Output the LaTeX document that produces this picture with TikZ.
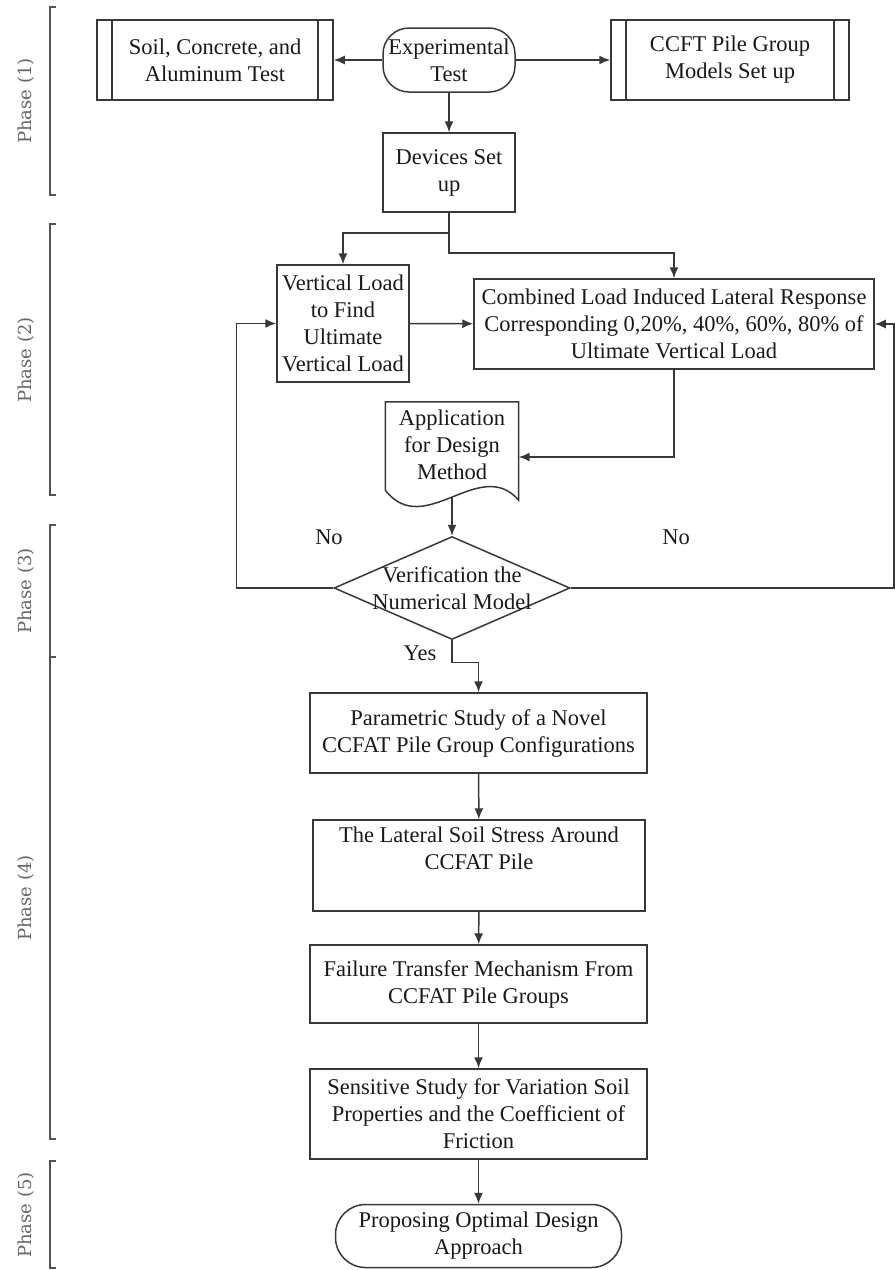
\documentclass[tikz,border=0pt]{standalone}
\usepackage{fontspec}
\setmainfont{Liberation Serif}
\newfontfamily\phasefamily{DejaVu Serif}
\usetikzlibrary{arrows.meta, shapes.geometric}

\definecolor{linegray}{HTML}{383838}
\definecolor{phasegray}{HTML}{666666}

\tikzset{
  boxfont/.style={font=\fontsize{22.5}{27}\selectfont, text=black!90, align=center},
  box/.style={boxfont, draw=linegray, line width=1.5pt, inner sep=0pt},
  procbox/.style={box, path picture={
      \draw[linegray, line width=1.5pt]
        ([xshift=15pt]path picture bounding box.north west) -- ([xshift=15pt]path picture bounding box.south west)
        ([xshift=-15pt]path picture bounding box.north east) -- ([xshift=-15pt]path picture bounding box.south east);}},
  termbox/.style={box, rounded corners=26pt},
  decision/.style={box, diamond},
  flow/.style={draw=linegray, line width=1.5pt, -{Latex[length=11pt,width=9pt]}},
  phasebar/.style={draw=phasegray!80!black, line width=1.5pt},
  phaselbl/.style={rotate=90, text=phasegray, font=\phasefamily\fontsize{18}{20}\selectfont}
}

\begin{document}
\begin{tikzpicture}[x=1pt, y=-1pt]
  \useasboundingbox (0,0) rectangle (896,1270);

  \foreach \ytop/\ybot in {7/195, 224/495, 525/1139, 1161/1268}
    \draw[phasebar] (56,\ytop) -- (50,\ytop) -- (50,\ybot) -- (56,\ybot);
  \draw[phasebar] (50,657) -- (56,657);
  \node[phaselbl] (ph1) at (26,101) {Phase (1)};
  \node[phaselbl] (ph2) at (26,360) {Phase (2)};
  \node[phaselbl] (ph3) at (26,591) {Phase (3)};
  \node[phaselbl] (ph4) at (26,898) {Phase (4)};
  \node[phaselbl] (ph5) at (26,1215) {Phase (5)};

  \node[procbox, minimum width=236pt, minimum height=80pt] (soil) at (215,60) {Soil, Concrete, and\\Aluminum Test};
  \node[termbox, minimum width=132pt, minimum height=64pt] (exp) at (449,60) {Experimental\\Test};
  \node[procbox, minimum width=238pt, minimum height=80pt] (ccft) at (730,60) {CCFT Pile Group\\Models Set up};
  \node[box, minimum width=132pt, minimum height=79pt] (dev) at (449,172.5) {Devices Set\\up};
  \node[box, minimum width=132pt, minimum height=117pt] (vload) at (343,323.5) {Vertical Load\\to Find\\Ultimate\\Vertical Load};
  \node[box, minimum width=400pt, minimum height=90pt] (comb) at (674,324) {Combined Load Induced Lateral Response\\Corresponding 0,20\%, 40\%, 60\%, 80\% of\\Ultimate Vertical Load};
  \node[boxfont, inner sep=0pt, minimum width=133pt, minimum height=86pt] (app) at (452,445) {Application\\for Design\\Method};
  \draw[draw=linegray, line width=1.5pt] (app.north west) -- (app.north east) -- ([yshift=-12pt]app.south east)
    .. controls +(-39,-45) and +(39,50) .. ([yshift=-2pt]app.south west) -- cycle;
  \coordinate (appbot) at ([yshift=-9pt]app.south);
  \node[decision, minimum width=236pt, minimum height=103pt,
        label={[boxfont]center:Verification the\\Numerical Model}] (verif) at (452,588) {};
  \node[box, minimum width=337pt, minimum height=80pt] (param) at (478.5,733) {Parametric Study of a Novel\\CCFAT Pile Group Configurations};
  \node[box, minimum width=332pt, minimum height=91pt] (lat) at (479,865.5) {The Lateral Soil Stress Around\\CCFAT Pile\\\strut};
  \node[box, minimum width=337pt, minimum height=78pt] (fail) at (478.5,984) {Failure Transfer Mechanism From\\CCFAT Pile Groups};
  \node[box, minimum width=337pt, minimum height=90pt] (sens) at (478.5,1114) {Sensitive Study for Variation Soil\\Properties and the Coefficient of\\Friction};
  \node[termbox, rounded corners=30pt, minimum width=286pt, minimum height=63pt] (prop) at (478.5,1236) {Proposing Optimal Design\\Approach};

  \node[boxfont] (no1) at (329,537) {No};
  \node[boxfont] (no2) at (676,537) {No};
  \node[boxfont] (yes) at (420,653) {Yes};

  \draw[flow] (exp) -- (soil);
  \draw[flow] (exp) -- (ccft);
  \draw[flow] (exp) -- (dev);
  \draw[flow] (dev.south) -- ++(0,20) -| (vload.north);
  \draw[flow] (dev.south) -- ++(0,40) -| (comb.north);
  \draw[flow] (vload) -- (comb);
  \draw[flow] (comb.south) |- ([yshift=-12pt]app.east);
  \draw[flow] (appbot) -- (verif.north);
  \draw[flow] (verif.west) -| ([xshift=-40pt]vload.west) -- (vload.west);
  \draw[flow] (verif.east) -| ([xshift=19pt]comb.east) -- (comb.east);
  \draw[flow] (verif.south) -- ++(0,22) -| (param.north);
  \draw[flow] (param) -- (lat);
  \draw[flow] (lat) -- (fail);
  \draw[flow] (fail) -- (sens);
  \draw[flow] (sens) -- (prop);
\end{tikzpicture}
\end{document}
